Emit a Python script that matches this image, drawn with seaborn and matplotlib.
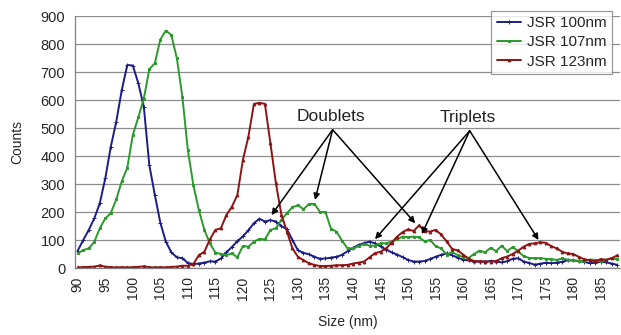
import matplotlib
matplotlib.use("Agg")
import matplotlib.pyplot as plt
import numpy as np
import pandas as pd
import seaborn as sns

# ---------------- data ----------------
sizes = list(range(90, 189))  # nm, one category per nm

jsr100 = [62, 100, 136, 177, 231, 320, 433, 523, 636, 725,
          723, 660, 576, 368, 261, 162, 94, 56, 38, 35,
          18, 14, 16, 19, 24, 23, 34, 56, 75, 96,
          113, 135, 160, 176, 166, 171, 166, 150, 138, 100,
          63, 54, 49, 40, 33, 34, 37, 40, 47, 60,
          72, 82, 89, 94, 88, 77, 66, 56, 48, 39,
          29, 23, 23, 25, 32, 40, 47, 52, 45, 37,
          30, 27, 23, 23, 23, 25, 23, 20, 24, 33,
          35, 23, 18, 12, 15, 19, 17, 19, 22, 28,
          27, 25, 22, 17, 19, 22, 20, 16, 11]

jsr107 = [52, 64, 70, 93, 142, 177, 196, 245, 310, 358,
          475, 538, 605, 710, 731, 816, 848, 832, 749, 612,
          421, 296, 207, 136, 88, 55, 50, 46, 52, 38,
          79, 76, 94, 104, 102, 136, 142, 172, 196, 217,
          224, 210, 228, 229, 200, 200, 140, 130, 98, 70,
          70, 78, 86, 80, 80, 88, 88, 94, 102, 112,
          110, 112, 110, 95, 100, 78, 70, 48, 57, 46,
          40, 36, 50, 62, 56, 72, 60, 80, 60, 75,
          60, 42, 36, 35, 35, 33, 31, 29, 34, 30,
          27, 25, 24, 30, 29, 24, 30, 35, 31]

jsr123 = [2, 3, 4, 5, 9, 5, 3, 2, 3, 2,
          3, 4, 6, 3, 2, 3, 2, 4, 5, 8,
          8, 14, 46, 58, 102, 136, 142, 189, 219, 261,
          386, 469, 586, 590, 586, 445, 302, 190, 130, 70,
          40, 28, 17, 11, 7, 7, 8, 10, 10, 11,
          16, 19, 23, 38, 53, 58, 70, 90, 112, 128,
          138, 132, 152, 132, 130, 136, 120, 95, 68, 63,
          48, 33, 25, 24, 23, 23, 25, 35, 41, 50,
          62, 76, 86, 88, 92, 90, 78, 70, 58, 52,
          50, 40, 31, 28, 24, 32, 29, 35, 45]

series_names = ["JSR 100nm", "JSR 107nm", "JSR 123nm"]
x_tick_labels = list(range(90, 186, 5))
y_ticks = list(range(0, 901, 100))

doublet_text = ("Doublets", 136.0, 541)
doublet_tips = [(125.2, 189), (133.1, 243), (151.3, 160)]
triplet_text = ("Triplets", 160.9, 537)
triplet_tips = [(144.0, 103), (152.5, 121), (173.7, 100)]

# ---------------- plotting ----------------
sns.set_style("white")
plt.rcParams["font.family"] = ["Liberation Sans", "DejaVu Sans"]

df = pd.DataFrame({
    "Size": sizes * 3,
    "Counts": jsr100 + jsr107 + jsr123,
    "Series": [series_names[0]] * len(sizes) + [series_names[1]] * len(sizes) + [series_names[2]] * len(sizes),
})

colors = {"JSR 100nm": "#1c1c86", "JSR 107nm": "#2a9a2a", "JSR 123nm": "#8c1414"}
markers = {"JSR 100nm": "+", "JSR 107nm": "s", "JSR 123nm": "^"}
msizes = {"JSR 100nm": 2.6, "JSR 107nm": 2.0, "JSR 123nm": 2.0}

fig = plt.figure(figsize=(6.21, 3.35), dpi=100)
ax = fig.add_axes([75 / 621, 1 - 268 / 335, (620 - 75) / 621, (268 - 16) / 335])

for name in series_names:
    sub = df[df["Series"] == name]
    sns.lineplot(data=sub, x="Size", y="Counts", ax=ax, color=colors[name],
                 marker=markers[name], markersize=msizes[name], markeredgewidth=0.7,
                 markeredgecolor=colors[name], linewidth=1.4, label=name)

ax.set_xlim(89.5, 188.5)
ax.set_ylim(0, 900)
ax.set_xticks(x_tick_labels)
ax.set_xticklabels([str(v) for v in x_tick_labels], rotation=90, fontsize=10)
ax.set_xticks(np.arange(89.5, 189.0, 1.0), minor=True)
ax.tick_params(axis="x", which="major", length=0, pad=6)
ax.tick_params(axis="x", which="minor", length=4, width=0.8, color="#808080", direction="out")
ax.set_yticks(y_ticks)
ax.set_yticklabels([str(v) for v in y_ticks], fontsize=10.5)
ax.tick_params(axis="y", length=4, width=0.8, color="#808080", direction="out", pad=3)

ax.yaxis.grid(True, color="#8c8c8c", linewidth=0.9)
ax.set_axisbelow(True)
for s in ["top", "right"]:
    ax.spines[s].set_visible(False)
for s in ["left", "bottom"]:
    ax.spines[s].set_color("#808080")
    ax.spines[s].set_linewidth(0.9)

ax.set_xlabel("Size (nm)", fontsize=10, labelpad=11)
ax.set_ylabel("Counts", fontsize=10, labelpad=12)

# annotations
for (label, tx, ty), tips in [(doublet_text, doublet_tips), (triplet_text, triplet_tips)]:
    ax.text(tx, ty, label, ha="center", va="center", fontsize=12.5, color="#222222")
    for tip in tips:
        ax.annotate("", xy=tip, xytext=(tx + 0.3, ty - 47),
                    arrowprops=dict(arrowstyle="-|>", color="black", lw=1.1,
                                    mutation_scale=9, shrinkA=0, shrinkB=0))

leg = ax.legend(loc="upper right", bbox_to_anchor=(620 / 621, 1 - 3 / 335),
                bbox_transform=fig.transFigure, fontsize=11, frameon=True,
                fancybox=False, edgecolor="#808080", handlelength=1.6,
                handletextpad=0.4, labelspacing=0.35, borderpad=0.35,
                markerscale=1.0)
leg.get_frame().set_linewidth(0.9)
leg.set_zorder(10)

fig.savefig("out.png", dpi=100)
